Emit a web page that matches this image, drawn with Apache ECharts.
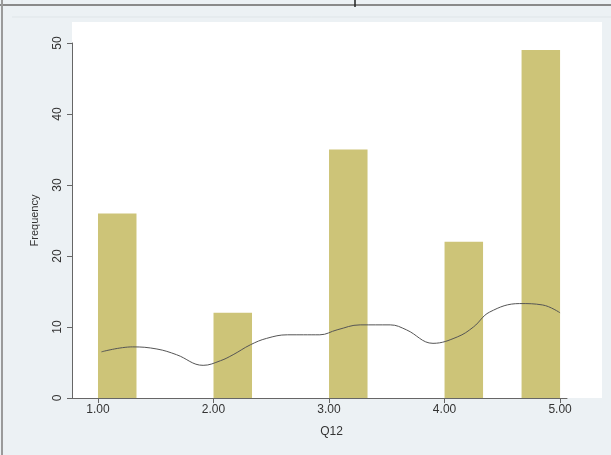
<!DOCTYPE html>
<html><head><meta charset="utf-8">
<script src="https://cdn.jsdelivr.net/npm/echarts@6/dist/echarts.min.js"></script>
<style>html,body{margin:0;padding:0;background:#ecf1f4}#c{width:611px;height:455px}</style>
</head><body><div id="c"></div>
<script>
// Histogram bins (Q12), bin width 1/3
var binStart = [1.0, 2.0, 3.0, 4.0, 4.6667];
var binEnd   = [1.3333, 2.3333, 3.3333, 4.3333, 5.0];
var freq     = [26, 12, 35, 22, 49];
// Overlay curve
var curveX = [1.03, 1.30, 1.51, 1.68, 1.91, 2.06, 2.17, 2.32, 2.46, 2.64, 2.92, 3.07, 3.27, 3.53, 3.67, 3.90, 4.11, 4.25, 4.39, 4.65, 4.85, 5.00];
var curveY = [6.5, 7.2, 6.9, 6.1, 4.6, 5.25, 6.1, 7.5, 8.4, 8.9, 8.9, 9.6, 10.3, 10.3, 9.6, 7.7, 8.6, 10.0, 12.1, 13.3, 13.1, 12.0];
var xTicks = [1, 2, 3, 4, 5];
var yTicks = [0, 10, 20, 30, 40, 50];

var chart = echarts.init(document.getElementById('c'), null, {renderer: 'canvas'});
var barData = binStart.map(function (s, i) { return [s, binEnd[i], freq[i]]; });
var lineData = curveX.map(function (x, i) { return [x, curveY[i]]; });

chart.setOption({
  backgroundColor: '#ecf1f4',
  animation: false,
  graphic: [
    {type: 'rect', z: -10, silent: true, shape: {x: 72, y: 22, width: 530, height: 376}, style: {fill: '#ffffff'}},
    {type: 'line', silent: true, shape: {x1: 0, y1: 5, x2: 611, y2: 5}, style: {stroke: '#8a8a8a', lineWidth: 2}},
    {type: 'line', silent: true, shape: {x1: 355, y1: 0, x2: 355, y2: 7}, style: {stroke: '#222', lineWidth: 1.5}},
    {type: 'line', silent: true, shape: {x1: 2, y1: 0, x2: 2, y2: 455}, style: {stroke: '#9a9a9a', lineWidth: 2}},
    {type: 'line', silent: true, shape: {x1: 12, y1: 17, x2: 611, y2: 17}, style: {stroke: '#dfe5e8', lineWidth: 1}}
  ],
  grid: {left: 72, right: 44, top: 43, bottom: 57, containLabel: false},
  xAxis: {
    type: 'value', min: 0.775, max: 5.06,
    name: 'Q12', nameLocation: 'middle', nameGap: 28,
    nameTextStyle: {color: '#333', fontSize: 12, fontFamily: 'Liberation Sans', padding: [0, 0, 0, 24]},
    axisLine: {show: true, lineStyle: {color: '#666', width: 1}},
    axisTick: {show: true, length: 5, customValues: xTicks, lineStyle: {color: '#666'}},
    axisLabel: {customValues: xTicks, color: '#333', fontSize: 12, fontFamily: 'Liberation Sans', margin: 6,
      formatter: function (v) { return Number(v).toFixed(2); }},
    splitLine: {show: false}
  },
  yAxis: {
    type: 'value', min: 0, max: 50, interval: 10,
    name: 'Frequency', nameLocation: 'middle', nameGap: 32,
    nameTextStyle: {color: '#333', fontSize: 11, fontFamily: 'Liberation Sans'},
    axisLine: {show: true, lineStyle: {color: '#666', width: 1}},
    axisTick: {show: true, length: 5, lineStyle: {color: '#666'}},
    axisLabel: {rotate: 90, color: '#333', fontSize: 12, fontFamily: 'Liberation Sans', margin: 8},
    splitLine: {show: false}
  },
  series: [
    {
      type: 'custom',
      data: barData,
      encode: {x: [0, 1], y: 2},
      renderItem: function (params, api) {
        var p0 = api.coord([api.value(0), 0]);
        var p1 = api.coord([api.value(1), api.value(2)]);
        return {type: 'rect', shape: {x: p0[0], y: p1[1], width: p1[0] - p0[0], height: p0[1] - p1[1]},
          style: {fill: '#cdc478'}};
      },
      z: 2
    },
    {
      type: 'line', data: lineData, smooth: 0.4, showSymbol: false,
      lineStyle: {color: '#555', width: 1}, z: 3
    }
  ]
});
</script></body></html>
